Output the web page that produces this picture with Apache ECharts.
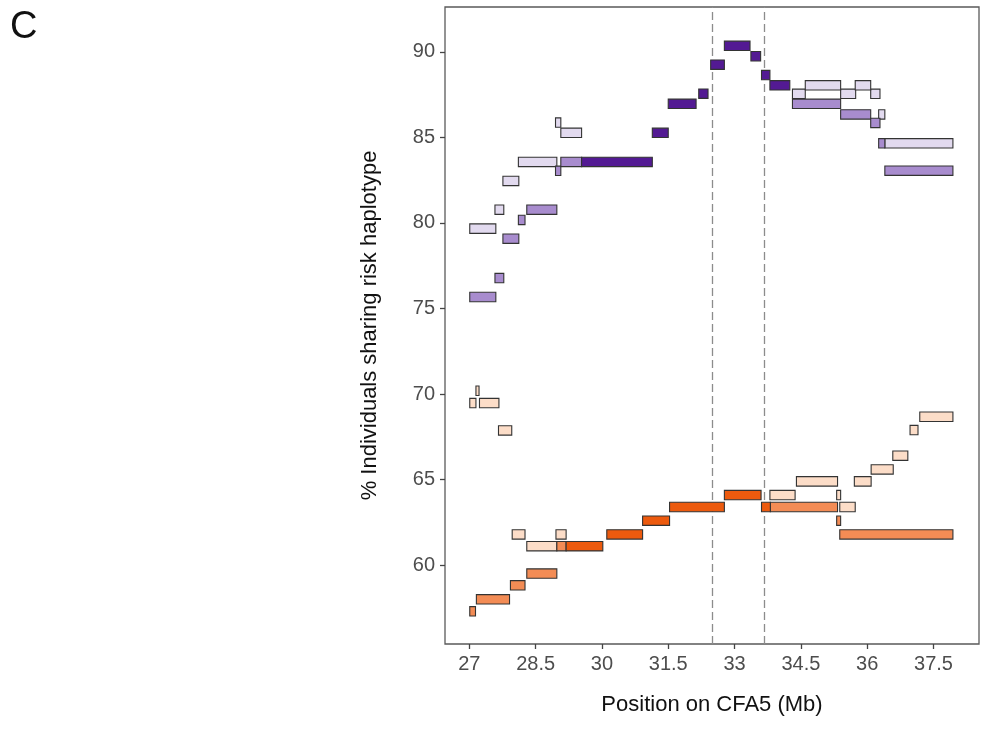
<!DOCTYPE html>
<html>
<head>
<meta charset="utf-8">
<script src="https://cdn.jsdelivr.net/npm/echarts@6/dist/echarts.min.js"></script>
<style>
html,body{margin:0;padding:0;background:#fff;}
#main{width:981px;height:729px;}
</style>
</head>
<body>
<div id="main"></div>
<script>
// Each segment: [start Mb, end Mb, % individuals]
const darkPurple = [
  [29.54, 31.14, 83.57], [31.14, 31.50, 85.27], [31.50, 32.13, 86.97],
  [32.19, 32.40, 87.56], [32.46, 32.77, 89.26], [32.77, 33.35, 90.36],
  [33.37, 33.59, 89.75], [33.61, 33.80, 88.65], [33.80, 34.25, 88.05]
];
const mediumPurple = [
  [27.01, 27.60, 75.67], [27.58, 27.78, 76.78], [27.76, 28.12, 79.08],
  [28.11, 28.26, 80.18], [28.30, 28.98, 80.78], [28.95, 29.07, 83.05],
  [29.07, 29.54, 83.57], [34.31, 35.40, 86.97], [35.40, 36.08, 86.35],
  [36.08, 36.29, 85.85], [36.40, 37.94, 83.06], [36.26, 36.40, 84.66]
];
const lightPurple = [
  [27.01, 27.60, 79.67], [27.58, 27.78, 80.78], [27.76, 28.12, 82.46],
  [28.11, 28.98, 83.57], [28.95, 29.07, 85.87], [29.07, 29.54, 85.27],
  [34.31, 34.60, 87.55], [35.40, 35.74, 87.55], [36.08, 36.29, 87.55],
  [34.60, 35.40, 88.05], [35.73, 36.08, 88.05], [36.26, 36.40, 86.35],
  [36.40, 37.94, 84.66]
];
const darkOrange = [
  [29.19, 30.02, 61.10], [30.11, 30.92, 61.79], [30.92, 31.53, 62.59],
  [31.53, 32.77, 63.39], [32.77, 33.60, 64.09], [33.61, 33.81, 63.39]
];
const mediumOrange = [
  [27.01, 27.14, 57.29], [27.16, 27.91, 57.99], [27.93, 28.26, 58.81],
  [28.30, 28.98, 59.50], [28.98, 29.19, 61.10], [33.81, 35.33, 63.39],
  [35.31, 35.40, 62.59], [35.38, 37.94, 61.79]
];
const lightOrange = [
  [27.15, 27.22, 70.19], [27.01, 27.15, 69.47], [27.23, 27.67, 69.47],
  [27.66, 27.96, 67.87], [27.97, 28.26, 61.79], [28.96, 29.19, 61.79],
  [28.30, 28.98, 61.10], [35.38, 35.73, 63.39], [33.80, 34.37, 64.09],
  [35.31, 35.40, 64.09], [34.40, 35.33, 64.89], [35.71, 36.09, 64.89],
  [36.09, 36.59, 65.59], [36.58, 36.92, 66.39], [36.97, 37.15, 67.89],
  [37.19, 37.94, 68.67]
];
const dashedLines = [32.49, 33.68];
const xTicks = [27, 28.5, 30, 31.5, 33, 34.5, 36, 37.5];
const yTicks = [60, 65, 70, 75, 80, 85, 90];

const HALF = 0.275;
function makeSeries(name, data, color) {
  return {
    name: name,
    type: 'custom',
    data: data,
    encode: { x: [0, 1], y: 2 },
    renderItem: function (params, api) {
      const x0 = api.value(0), x1 = api.value(1), y = api.value(2);
      const p0 = api.coord([x0, y + HALF]);
      const p1 = api.coord([x1, y - HALF]);
      return {
        type: 'rect',
        shape: { x: p0[0], y: p0[1], width: p1[0] - p0[0], height: p1[1] - p0[1] },
        style: { fill: color, stroke: '#333', lineWidth: 1.1 }
      };
    },
    z: 3
  };
}

const chart = echarts.init(document.getElementById('main'));
const series = [
  makeSeries('lightPurple', lightPurple, '#E2DAEF'),
  makeSeries('mediumPurple', mediumPurple, '#A88CCE'),
  makeSeries('darkPurple', darkPurple, '#531A93'),
  makeSeries('lightOrange', lightOrange, '#FCDDC8'),
  makeSeries('mediumOrange', mediumOrange, '#F38C55'),
  makeSeries('darkOrange', darkOrange, '#EC5A0E')
];
series[0].markLine = {
  silent: true,
  symbol: 'none',
  label: { show: false },
  lineStyle: { color: '#8c8c8c', type: [8, 4], width: 1.3 },
  data: dashedLines.map(v => ({ xAxis: v })),
  z: 2
};

chart.setOption({
  animation: false,
  backgroundColor: '#fff',
  grid: { left: 445, right: 2, top: 7, bottom: 85, show: true, borderColor: '#5a5a5a', borderWidth: 1.3, backgroundColor: '#fff' },
  graphic: [{
    type: 'text', left: 10, top: 9,
    style: { text: 'C', font: '38px "Liberation Sans", Arial, sans-serif', fill: '#111' }
  }],
  xAxis: {
    type: 'value', min: 26.45, max: 38.53,
    name: 'Position on CFA5 (Mb)', nameLocation: 'middle', nameGap: 50,
    nameTextStyle: { fontFamily: 'Liberation Sans', fontSize: 22, color: '#111' },
    axisLine: { show: false },
    splitLine: { show: false },
    axisTick: { show: true, length: 5, lineStyle: { color: '#444', width: 1.3 }, customValues: xTicks },
    axisLabel: { margin: 10, fontFamily: 'Liberation Sans', fontSize: 20, color: '#4d4d4d', customValues: xTicks,
      formatter: v => String(v) }
  },
  yAxis: {
    type: 'value', min: 55.38, max: 92.63,
    name: '% Individuals sharing risk haplotype', nameLocation: 'middle', nameGap: 64,
    nameTextStyle: { fontFamily: 'Liberation Sans', fontSize: 22, color: '#111' },
    axisLine: { show: false },
    splitLine: { show: false },
    axisTick: { show: true, length: 5, lineStyle: { color: '#444', width: 1.3 }, customValues: yTicks },
    axisLabel: { margin: 10, fontFamily: 'Liberation Sans', fontSize: 20, color: '#4d4d4d', customValues: yTicks,
      formatter: v => String(v) }
  },
  series: series
});
</script>
</body>
</html>
